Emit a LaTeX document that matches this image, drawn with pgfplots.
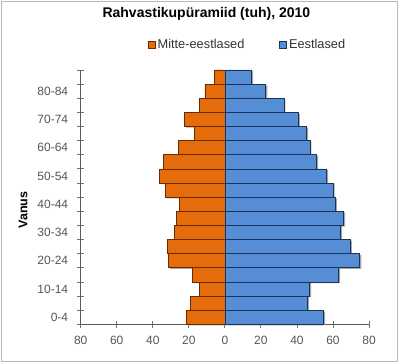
\documentclass[border=0pt]{standalone}
\usepackage{pgfplots}
\pgfplotsset{compat=1.18}
\usepackage{fontspec}
\setmainfont{Liberation Sans}
\definecolor{orng}{HTML}{E46C0A}
\definecolor{blu}{HTML}{558ED5}
\definecolor{orngb}{HTML}{6A2A00}
\definecolor{blub}{HTML}{1A3358}
\definecolor{tickgray}{HTML}{555555}
\pgfplotstableread{
y m e
0 -21.4 54.8
1 -19.0 45.8
2 -14.0 47.0
3 -17.9 63.1
4 -31.2 74.9
5 -31.7 69.7
6 -28.2 64.2
7 -26.8 65.9
8 -25.1 61.4
9 -32.8 60.1
10 -36.2 56.5
11 -34.1 50.9
12 -25.8 47.2
13 -17.0 45.4
14 -22.5 40.8
15 -14.2 32.8
16 -11.1 22.7
17 -5.7 14.9
}\pyr
\begin{document}
\begin{tikzpicture}[x=1pt,y=1pt]
\useasboundingbox (0,0) rectangle (400,363);
\draw[color=black!28, line width=1pt] (1.5,1.5) rectangle (397,361.5);
\begin{axis}[
  at={(80.7pt,38.7pt)}, anchor=south west,
  scale only axis, width=288.3pt, height=254.3pt,
  xmin=-80, xmax=80, ymin=-0.5, ymax=17.5,
  axis lines*=left,
  axis line style={black!65, line width=0.8pt},
  tick style={black!55, line width=0.8pt},
  tick align=center, major tick length=7pt,
  xtick={-80,-60,-40,-20,0,20,40,60,80},
  xticklabels={80,60,40,20,0,20,40,60,80},
  ytick={-0.5,0.5,...,17.5},
  yticklabels={},
  extra y ticks={0,2,4,6,8,10,12,14,16},
  extra y tick labels={0-4,10-14,20-24,30-34,40-44,50-54,60-64,70-74,80-84},
  extra y tick style={major tick length=0pt, yticklabel style={xshift=-9pt}},
  ticklabel style={font=\fontsize{12}{14}\selectfont, text=tickgray},
  xticklabel style={yshift=-5pt},
  title={Rahvastikupüramiid (tuh), 2010},
  title style={at={(axis description cs:0.436,1.197)}, anchor=center, font=\bfseries\fontsize{14}{16}\selectfont},
  ylabel={Vanus},
  ylabel style={at={(axis description cs:-0.200,0.449)}, anchor=center, font=\bfseries\fontsize{12.5}{14}\selectfont},
  legend columns=2,
  legend style={at={(axis description cs:0.579,1.098)}, anchor=center, draw=none, fill=none,
    font=\fontsize{12.8}{15}\selectfont, text=tickgray!60!black,
    /tikz/every even column/.append style={column sep=33pt}},
  legend image code/.code={\draw[#1,line width=0.6pt] (0pt,-3.5pt) rectangle (7pt,3.5pt);},
  clip=false,
]
\addplot[xbar, bar width=1, bar shift=0pt, fill=black!35, draw=none, forget plot, xshift=1.5pt, yshift=-1.2pt] table[x=m,y=y]{\pyr};
\addplot[xbar, bar width=1, bar shift=0pt, fill=black!35, draw=none, forget plot, xshift=1.5pt, yshift=-1.2pt] table[x=e,y=y]{\pyr};
\addplot[xbar, bar width=1, bar shift=0pt, fill=orng, draw=orngb, line width=0.7pt] table[x=m,y=y]{\pyr};
\addlegendentry{Mitte-eestlased}
\addplot[xbar, bar width=1, bar shift=0pt, fill=blu, draw=blub, line width=0.7pt] table[x=e,y=y]{\pyr};
\addlegendentry{Eestlased}
\end{axis}
\end{tikzpicture}
\end{document}
